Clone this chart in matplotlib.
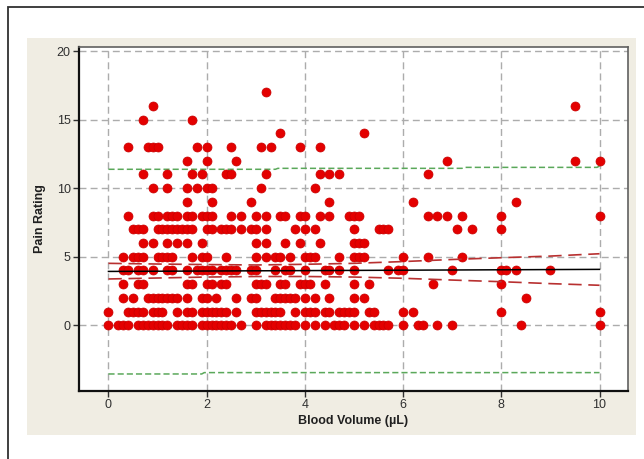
import matplotlib
matplotlib.use('Agg')
import matplotlib.pyplot as plt
from matplotlib.patches import Rectangle

# blood volume values for each pain rating (0..17)
pain_0 = [0, 0.2, 0.3, 0.4, 0.6, 0.7, 0.8, 0.9, 1.0, 1.1, 1.2, 1.4, 1.5, 1.6, 1.7, 1.9, 2.0, 2.1,
          2.2, 2.3, 2.4, 2.5, 2.7, 3.0, 3.2, 3.3, 3.4, 3.5, 3.6, 3.7, 3.8, 4.0, 4.2, 4.4, 4.6, 4.7,
          4.8, 5.0, 5.2, 5.4, 5.5, 5.6, 5.7, 6.0, 6.3, 6.4, 6.7, 7.0, 8.4, 10.0]
pain_1 = [0, 0.4, 0.5, 0.6, 0.7, 0.9, 1.0, 1.1, 1.4, 1.6, 1.7, 1.9, 2.0, 2.1, 2.2, 2.3, 2.4, 2.6,
          3.0, 3.1, 3.2, 3.3, 3.4, 3.5, 3.8, 4.0, 4.1, 4.2, 4.4, 4.5, 4.7, 4.8, 4.9, 5.0, 5.3, 5.4,
          6.0, 6.2, 8.0, 10.0]
pain_2 = [0.3, 0.5, 0.8, 0.9, 1.0, 1.1, 1.2, 1.3, 1.4, 1.6, 1.9, 2.0, 2.2, 2.6, 2.9, 3.0, 3.4,
          3.5, 3.6, 3.7, 3.8, 4.0, 4.2, 4.5, 5.0, 5.2, 8.5]
pain_3 = [0.3, 0.6, 0.7, 1.6, 1.7, 2.0, 2.1, 2.3, 2.4, 3.0, 3.1, 3.2, 3.5, 3.6, 3.9, 4.0, 4.1,
          4.4, 5.0, 5.3, 6.6, 8.0]
pain_4 = [0.3, 0.4, 0.6, 0.7, 0.9, 1.2, 1.3, 1.6, 1.8, 1.9, 2.0, 2.1, 2.3, 2.4, 2.5, 2.6, 2.9,
          3.0, 3.4, 3.6, 3.7, 4.0, 4.4, 4.5, 4.7, 5.0, 5.7, 5.9, 6.0, 7.0, 8.0, 8.1, 8.3, 9.0]
pain_5 = [0.3, 0.5, 0.6, 0.7, 1.0, 1.1, 1.2, 1.3, 1.7, 1.9, 2.0, 2.4, 3.0, 3.2, 3.4, 3.5, 3.7,
          4.0, 4.1, 4.2, 4.7, 5.0, 5.1, 5.2, 6.0, 6.5, 7.2]
pain_6 = [0.7, 0.9, 1.2, 1.4, 1.6, 1.9, 3.0, 3.2, 3.6, 3.9, 4.3, 5.0, 5.1, 5.2]
pain_7 = [0.5, 0.6, 0.7, 1.0, 1.1, 1.2, 1.3, 1.4, 1.5, 1.6, 1.7, 2.0, 2.1, 2.3, 2.4, 2.5, 2.7,
          2.9, 3.0, 3.2, 3.8, 4.0, 4.2, 5.0, 5.5, 5.6, 5.7, 7.1, 7.4, 8.0]
pain_8 = [0.4, 0.9, 1.0, 1.2, 1.3, 1.4, 1.6, 1.7, 1.9, 2.0, 2.1, 2.5, 2.7, 3.0, 3.2, 3.5, 3.6,
          3.9, 4.0, 4.3, 4.5, 4.9, 5.0, 5.1, 6.5, 6.7, 6.9, 7.2, 8.0, 10.0]
pain_9 = [1.6, 2.1, 2.9, 4.5, 6.2, 8.3]
pain_10 = [0.9, 1.2, 1.6, 1.8, 2.0, 2.1, 3.1, 4.2]
pain_11 = [0.7, 1.2, 1.7, 1.9, 2.4, 2.5, 3.2, 4.3, 4.5, 4.7, 6.5]
pain_12 = [1.6, 2.0, 2.6, 6.9, 9.5, 10.0]
pain_13 = [0.4, 0.8, 0.9, 1.0, 1.8, 2.0, 2.5, 3.1, 3.3, 3.9, 4.3]
pain_14 = [3.5, 5.2]
pain_15 = [0.7, 1.7]
pain_16 = [0.9, 9.5]
pain_17 = [3.2]

rows = [pain_0, pain_1, pain_2, pain_3, pain_4, pain_5, pain_6, pain_7, pain_8,
        pain_9, pain_10, pain_11, pain_12, pain_13, pain_14, pain_15, pain_16, pain_17]

# regression fit and bands
fit_x = [0, 10]
fit_y = [3.93, 4.08]
ci_x = [0, 1, 2, 3, 4, 5, 6, 7, 8, 9, 10]
ci_upper = [4.52, 4.47, 4.43, 4.40, 4.45, 4.52, 4.65, 4.80, 4.93, 5.05, 5.22]
ci_lower = [3.38, 3.45, 3.52, 3.56, 3.56, 3.52, 3.43, 3.30, 3.18, 3.04, 2.92]
pi_upper_x = [0, 3.4, 3.45, 7.2, 7.25, 9.95, 10]
pi_upper = [11.38, 11.38, 11.45, 11.45, 11.52, 11.52, 11.62]
pi_lower_x = [0, 1.9, 1.95, 10]
pi_lower = [-3.55, -3.55, -3.45, -3.45]

xticks = [0, 2, 4, 6, 8, 10]
yticks = [0, 5, 10, 15, 20]

plt.rcParams['font.family'] = ['Liberation Sans', 'DejaVu Sans']

fig = plt.figure(figsize=(6.44, 4.59), dpi=100)
fig.patch.set_facecolor('white')

# outer frame and beige panel
fig.patches.append(Rectangle((8 / 644, -0.1), 1.2, 1.1 - 7 / 459, transform=fig.transFigure,
                             fill=False, edgecolor='#303030', linewidth=1.3, zorder=-2))
fig.patches.append(Rectangle((27 / 644, 1 - 435 / 459), (636 - 27) / 644, (435 - 38) / 459,
                             transform=fig.transFigure, facecolor='#f0ede3', edgecolor='none',
                             zorder=-1))

ax = fig.add_axes([79 / 644, 1 - 390.7 / 459, (627.5 - 79) / 644, (390.7 - 47) / 459])
ax.set_zorder(2)
ax.set_facecolor('white')

xs, ys = [], []
for rating, vols in enumerate(rows):
    xs += vols
    ys += [rating] * len(vols)

ax.set_xlim(-0.6, 10.57)
ax.set_ylim(-4.77, 20.3)
ax.set_xticks(xticks)
ax.set_yticks(yticks)

for xv in xticks:
    ax.axvline(xv, color='#acacac', linewidth=1.0, linestyle=(0, (5, 3)), zorder=1)
for yv in yticks:
    ax.axhline(yv, color='#acacac', linewidth=1.0, linestyle=(0, (5, 3)), zorder=1)

ax.plot(pi_upper_x, pi_upper, color='#5aa85a', linewidth=1.1, linestyle=(0, (4, 2)), zorder=2)
ax.plot(pi_lower_x, pi_lower, color='#5aa85a', linewidth=1.1, linestyle=(0, (4, 2)), zorder=2)

ax.scatter(xs, ys, s=42, color='#e40000', edgecolors='#c80000', linewidths=0.5, zorder=3)

ax.plot(fit_x, fit_y, color='black', linewidth=1.1, zorder=4)
ax.plot(ci_x, ci_upper, color='#b83030', linewidth=1.2, linestyle=(0, (8, 4)), zorder=4)
ax.plot(ci_x, ci_lower, color='#b83030', linewidth=1.2, linestyle=(0, (8, 4)), zorder=4)

for side in ['left', 'bottom']:
    ax.spines[side].set_color('#101010')
    ax.spines[side].set_linewidth(1.6)
for side in ['top', 'right']:
    ax.spines[side].set_color('#606060')
    ax.spines[side].set_linewidth(1.2)

ax.tick_params(axis='both', direction='out', length=4, width=1, color='#303030',
               labelsize=9, labelcolor='#303030', pad=2)
ax.set_xlabel('Blood Volume (µL)', fontsize=9, fontweight='bold', color='#202020', labelpad=3)
ax.set_ylabel('Pain Rating', fontsize=9, fontweight='bold', color='#202020', labelpad=8)

fig.savefig('out.png', dpi=100)
